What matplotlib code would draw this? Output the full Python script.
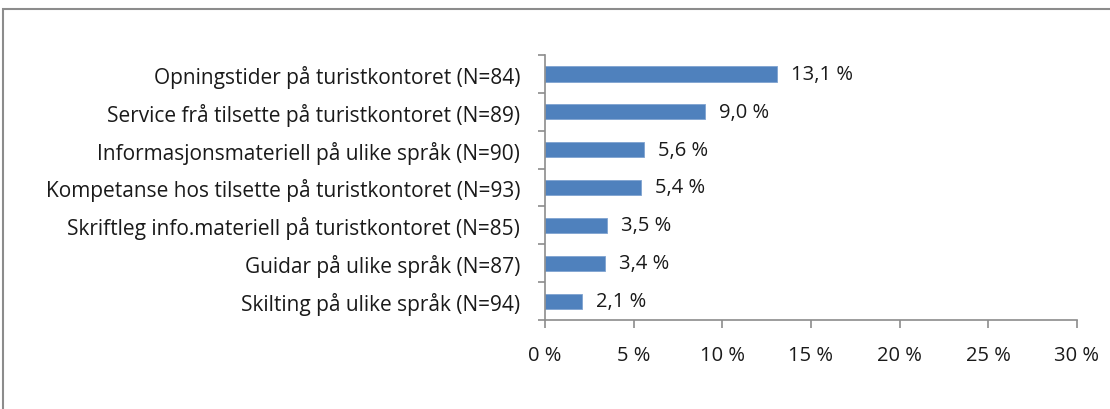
import matplotlib
matplotlib.use("Agg")
import matplotlib.pyplot as plt
from matplotlib.patches import Rectangle

categories = [
    "Opningstider på turistkontoret (N=84)",
    "Service frå tilsette på turistkontoret (N=89)",
    "Informasjonsmateriell på ulike språk (N=90)",
    "Kompetanse hos tilsette på turistkontoret (N=93)",
    "Skriftleg info.materiell på turistkontoret (N=85)",
    "Guidar på ulike språk (N=87)",
    "Skilting på ulike språk (N=94)",
]
values = [13.1, 9.0, 5.6, 5.4, 3.5, 3.4, 2.1]
value_labels = ["13,1 %", "9,0 %", "5,6 %", "5,4 %", "3,5 %", "3,4 %", "2,1 %"]
xticks = [0, 5, 10, 15, 20, 25, 30]
xtick_labels = ["0 %", "5 %", "10 %", "15 %", "20 %", "25 %", "30 %"]

plt.rcParams['font.family'] = ['Open Sans', 'DejaVu Sans']
W, H = 1110, 410
fig = plt.figure(figsize=(W / 100, H / 100), dpi=100)
fig.patch.set_facecolor("white")

# outer chart border
fig.patches.append(Rectangle((3 / W, -0.05), 1.2, 1 - 10 / H + 0.05,
                             transform=fig.transFigure, fill=False,
                             edgecolor="#8c8c8c", linewidth=1.5))

FS = 14.5
TXT = "#1a1a1a"
ax = fig.add_axes([545 / W, 1 - 321 / H, (1077 - 545) / W, (321 - 56) / H])
n = len(categories)
ypos = list(range(n))[::-1]
ax.barh(ypos, values, height=0.4, color="#4F81BD", edgecolor="#7fa3d0", linewidth=0.6)
for y, v, lab in zip(ypos, values, value_labels):
    ax.text(v + 0.8, y, lab, va="center", ha="left", fontsize=FS, color=TXT)

ax.set_xlim(0, 30)
ax.set_ylim(-0.5, n - 0.5)
ax.set_xticks(xticks)
ax.set_xticklabels(xtick_labels, fontsize=FS, color=TXT)
ax.set_yticks(ypos)
ax.set_yticklabels(categories, fontsize=15, color=TXT)
ax.set_yticks([i - 0.5 for i in range(n + 1)], minor=True)
ax.tick_params(axis="y", which="major", length=0, pad=18)
ax.tick_params(axis="y", which="minor", length=5, color="#8c8c8c", width=1.2)
ax.tick_params(axis="x", length=6, color="#8c8c8c", width=1.2, pad=12)
for s in ["top", "right"]:
    ax.spines[s].set_visible(False)
for s in ["left", "bottom"]:
    ax.spines[s].set_color("#8c8c8c")
    ax.spines[s].set_linewidth(1.2)

fig.savefig("out.png", dpi=100, facecolor="white")
